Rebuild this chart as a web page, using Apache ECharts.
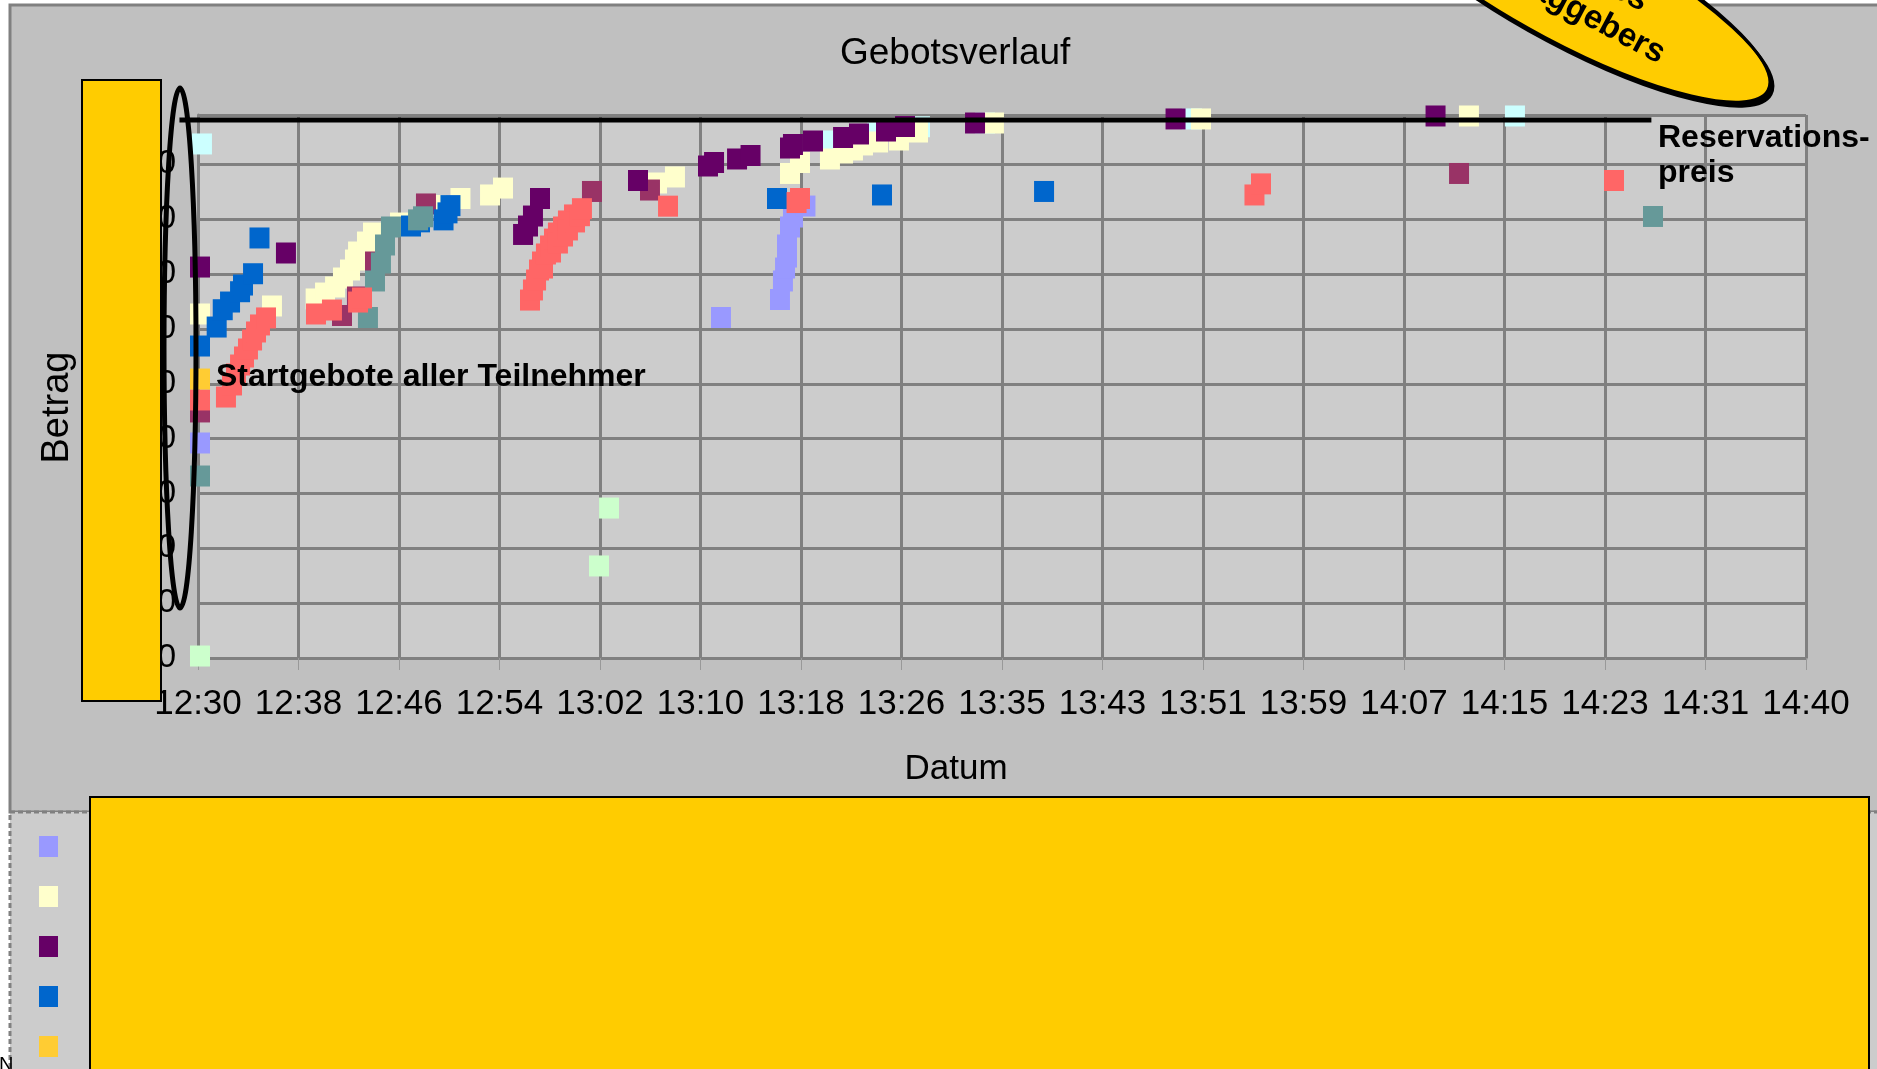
<!DOCTYPE html>
<html>
<head>
<meta charset="utf-8">
<title>Gebotsverlauf</title>
<script src="https://cdn.jsdelivr.net/npm/echarts@6/dist/echarts.min.js"></script>
<style>
  html, body { margin: 0; padding: 0; background: #fff; }
  #chart { width: 1877px; height: 1069px; }
</style>
</head>
<body>
<div id="chart"></div>
<script>
// Zeit = Minuten ab 12:30, Betrag in CHF
var xTickLabels = ['12:30', '12:38', '12:46', '12:54', '13:02', '13:10', '13:18', '13:26', '13:35',
  '13:43', '13:51', '13:59', '14:07', '14:15', '14:23', '14:31', '14:40'];
var yTickLabels = ['1000', '1050', '1100', '1150', '1200', '1250', '1300', '1350', '1400', '1450'];

var teilnehmer = ['Teilnehmer 1', 'Teilnehmer 2', 'Teilnehmer 3', 'Teilnehmer 4', 'Teilnehmer 5',
  'Teilnehmer 6', 'Teilnehmer 7', 'Teilnehmer 8', 'Teilnehmer 9', 'Teilnehmer 10'];

// Reservationspreis (Linie von ... bis ... Minuten)
var reservationPrice = 1490.4;
var reservationFrom = -1.5;
var reservationTo = 117.5;

var gebote1 = [[0.16, 1196], [42.28, 1310.4], [47.05, 1326.8], [47.29, 1343.7], [47.46, 1355.5],
  [47.62, 1365.5], [47.62, 1376.5], [47.86, 1392.9], [48.10, 1402.0], [49.11, 1412.0]];
var gebote2 = [[0.16, 1313.6], [5.98, 1320.9], [9.51, 1327.3], [10.27, 1332.7], [11.08, 1338.2],
  [11.72, 1346.4], [12.29, 1353.7], [12.69, 1362.8], [12.94, 1370.1], [13.66, 1379.2], [14.15, 1387.4],
  [16.33, 1396.5], [19.24, 1412.5], [21.22, 1418.9], [23.61, 1422.1], [24.66, 1428.4], [37.11, 1433.0],
  [38.56, 1438.5], [47.86, 1441.7], [48.67, 1451.7], [51.09, 1454.9], [52.15, 1460.4], [52.95, 1463.1],
  [53.76, 1467.7], [54.98, 1470.4], [56.67, 1472.2], [58.21, 1479.5], [64.35, 1487.7], [81.09, 1491.4],
  [102.75, 1494.1]];
var gebote3 = [[0.16, 1356.4], [7.11, 1369.2], [26.28, 1386.1], [26.68, 1393.8], [27.08, 1402.9],
  [27.65, 1418.9], [35.57, 1435.3], [41.23, 1448.5], [41.72, 1451.7], [43.58, 1454.9], [44.67, 1458.1],
  [47.86, 1464.9], [48.10, 1468.1], [49.72, 1471.3], [52.15, 1474.5], [53.44, 1477.7], [55.62, 1480.4],
  [57.16, 1484.5], [62.82, 1487.7], [79.03, 1491.4], [100.05, 1494.1]];
var gebote4 = [[0.16, 1284.4], [1.51, 1301.7], [2.0, 1317.5], [2.59, 1324.5], [3.40, 1333.9],
  [3.64, 1340.0], [4.45, 1350.3], [4.97, 1382.9], [17.22, 1393.8], [17.95, 1397.6], [19.85, 1399.4],
  [20.17, 1405.8], [20.41, 1412.4], [46.81, 1418.9], [55.30, 1422.1], [68.40, 1425.3]];
var gebote5 = [[0.16, 1254.3]];
var gebote6 = [[0.16, 1235.2], [2.26, 1237.9], [2.75, 1248.9], [3.07, 1258.9], [3.40, 1267.1],
  [3.72, 1274.4], [4.04, 1281.7], [4.37, 1289.9], [4.69, 1297.2], [5.01, 1303.6], [5.50, 1310.0],
  [9.54, 1313.6], [10.83, 1317.2], [12.94, 1324.5], [13.26, 1328.2], [26.84, 1326.3], [27.08, 1335.5],
  [27.33, 1344.6], [27.57, 1353.7], [27.81, 1361.0], [27.89, 1355.5], [28.13, 1368.3], [28.46, 1375.6],
  [28.54, 1370.1], [28.78, 1381.9], [29.10, 1387.4], [29.10, 1378.3], [29.51, 1392.9], [29.51, 1384.7],
  [29.91, 1398.4], [29.91, 1390.2], [30.40, 1403.9], [30.48, 1397.5], [30.88, 1403.2], [31.04, 1409.6],
  [38.00, 1411.9], [48.39, 1415.2], [48.67, 1418.9], [85.41, 1422.1], [85.94, 1432.2], [114.48, 1435.3]];
var gebote7 = [[0.16, 1224.3], [11.64, 1312.2], [12.85, 1329.1], [14.31, 1361.0], [18.43, 1413.9],
  [31.85, 1425.3], [36.54, 1426.6], [101.95, 1441.7]];
var gebote8 = [[0.16, 1165.9], [13.74, 1310.4], [14.31, 1343.7], [14.79, 1360.1], [15.12, 1376.5],
  [15.60, 1392.9], [17.79, 1399.4], [18.19, 1402.2], [117.63, 1402.5]];
var gebote9 = [[0.32, 1468.6], [51.34, 1471.3], [54.89, 1478.6], [58.37, 1484.3], [63.63, 1487.7],
  [80.36, 1491.4], [106.47, 1494.1]];
var gebote10 = [[0.16, 1001.8], [32.42, 1083.9], [33.23, 1136.7]];

var alleGebote = [gebote1, gebote2, gebote3, gebote4, gebote5, gebote6, gebote7, gebote8, gebote9, gebote10];
var farben = ['#9999FF', '#FFFFCC', '#660066', '#0066CC', '#FFCC33',
  '#FF6666', '#993366', '#669999', '#CCFFFF', '#CCFFCC'];
// Zeichenreihenfolge (später = oben)
var reihenfolge = [0, 8, 1, 6, 3, 7, 2, 5, 4, 9];

var font = "'Liberation Sans', Arial, sans-serif";

var series = reihenfolge.map(function (i) {
  return {
    name: teilnehmer[i],
    type: 'scatter',
    symbol: 'rect',
    symbolSize: [20, 21],
    itemStyle: { color: farben[i], opacity: 1 },
    emphasis: { disabled: true },
    data: alleGebote[i]
  };
});

var chart = echarts.init(document.getElementById('chart'));
chart.setOption({
  animation: false,
  backgroundColor: '#ffffff',
  color: farben,
  title: {
    text: 'Gebotsverlauf',
    left: 840,
    top: 35,
    padding: 0,
    textStyle: {
      fontFamily: font, fontSize: 37, fontWeight: 'normal', color: '#000',
      textShadowColor: '#ffffff', textShadowOffsetX: 2, textShadowOffsetY: 2, textShadowBlur: 0
    }
  },
  legend: {
    orient: 'vertical',
    left: 39,
    top: 836,
    height: 700,
    padding: 0,
    itemWidth: 19,
    itemHeight: 21,
    itemGap: 29,
    icon: 'rect',
    selectedMode: false,
    data: teilnehmer,
    textStyle: { fontFamily: font, fontSize: 14, color: '#000', padding: [0, 0, 0, 45] }
  },
  grid: {
    left: 198, top: 115, width: 1608, height: 543,
    show: true, backgroundColor: '#CCCCCC', borderWidth: 0,
    outerBoundsMode: 'none'
  },
  xAxis: {
    type: 'value',
    min: 0, max: 130, interval: 8.125,
    name: 'Datum',
    nameLocation: 'middle',
    nameGap: 94,
    nameMoveOverlap: false,
    nameTextStyle: { fontFamily: font, fontSize: 35, color: '#000', padding: [0, 92, 0, 0] },
    axisLine: { show: true, lineStyle: { color: '#808080', width: 3 } },
    axisTick: { show: true, length: 12, lineStyle: { color: '#999999', width: 1 } },
    splitLine: { show: true, lineStyle: { color: '#808080', width: 3 } },
    axisLabel: {
      fontFamily: font, fontSize: 35, color: '#000', margin: 29,
      hideOverlap: false,
      formatter: function (v, i) { return xTickLabels[i] || ''; }
    }
  },
  yAxis: {
    type: 'value',
    min: 1000, max: 1495, interval: 50,
    name: 'Betrag',
    nameLocation: 'middle',
    nameGap: 121,
    nameMoveOverlap: false,
    nameTextStyle: { fontFamily: font, fontSize: 38, color: '#000', padding: [0, 42, 0, 0] },
    axisLine: { show: true, lineStyle: { color: '#808080', width: 3 } },
    axisTick: { show: false },
    splitLine: { show: true, lineStyle: { color: '#808080', width: 3 } },
    axisLabel: {
      fontFamily: font, fontSize: 33, color: '#000', margin: 22,
      formatter: function (v, i) { return yTickLabels[i] || ''; }
    }
  },
  graphic: {
    elements: [
      // Diagrammfläche und Legendenbereich
      { type: 'rect', z: -10, silent: true,
        shape: { x: 10, y: 5, width: 1900, height: 807 },
        style: { fill: '#C0C0C0', stroke: '#808080', lineWidth: 3 } },
      { type: 'rect', z: -10, silent: true,
        shape: { x: 10, y: 812, width: 1900, height: 300 },
        style: { fill: '#CCCCCC', stroke: '#808080', lineWidth: 3, lineDash: [5, 3] } },
      // Abdeckungen
      { type: 'rect', z: 60, silent: true,
        shape: { x: 82, y: 80, width: 79, height: 621 },
        style: { fill: '#FFCC00', stroke: '#000', lineWidth: 2 } },
      { type: 'rect', z: 60, silent: true,
        shape: { x: 90, y: 797, width: 1779, height: 300 },
        style: { fill: '#FFCC00', stroke: '#000', lineWidth: 2 } },
      // Ellipse um die Startgebote
      { type: 'ellipse', z: 61, silent: true,
        shape: { cx: 180, cy: 348, rx: 16, ry: 260 },
        style: { fill: null, stroke: '#000', lineWidth: 5 } },
      { type: 'text', z: 61, silent: true, x: 216, y: 377,
        style: { text: 'Startgebote aller Teilnehmer', font: 'bold 32px ' + font,
          fill: '#000', align: 'left', verticalAlign: 'middle' } },
      { type: 'text', z: 61, silent: true, x: 1658, y: 156,
        style: { text: 'Reservations-\npreis', font: 'bold 32px ' + font, lineHeight: 35,
          fill: '#000', align: 'left', verticalAlign: 'middle' } },
      // Sprechblase oben rechts
      { type: 'group', z: 61, x: 1572, y: -14, rotation: -28 * Math.PI / 180,
        children: [
          { type: 'ellipse', z: 61, silent: true,
            shape: { cx: 0, cy: 0, rx: 222, ry: 58 },
            style: { fill: '#FFCC00', stroke: '#000', lineWidth: 3,
              shadowColor: '#000', shadowOffsetX: 3, shadowOffsetY: 4, shadowBlur: 0 } },
          { type: 'text', z: 62, silent: true, x: 0, y: 0,
            style: { text: 'Preis des\nAuftraggebers', font: 'bold 33px ' + font, lineHeight: 38,
              fill: '#000', align: 'center', verticalAlign: 'middle' } }
        ] },
      { type: 'text', z: 61, silent: true, x: -1, y: 1055,
        style: { text: 'N', font: '20px ' + font, fill: '#000', align: 'left', verticalAlign: 'top' } }
    ]
  },
  series: series
});

// Reservationspreis-Linie über die Achsenskalen positionieren
var p1 = chart.convertToPixel({ gridIndex: 0 }, [reservationFrom, reservationPrice]);
var p2 = chart.convertToPixel({ gridIndex: 0 }, [reservationTo, reservationPrice]);
chart.setOption({
  graphic: {
    elements: [
      { id: 'reservationLine', type: 'line', z: 59, silent: true,
        shape: { x1: p1[0], y1: p1[1], x2: p2[0], y2: p2[1] },
        style: { stroke: '#000', lineWidth: 5 } }
    ]
  }
});
</script>
</body>
</html>
